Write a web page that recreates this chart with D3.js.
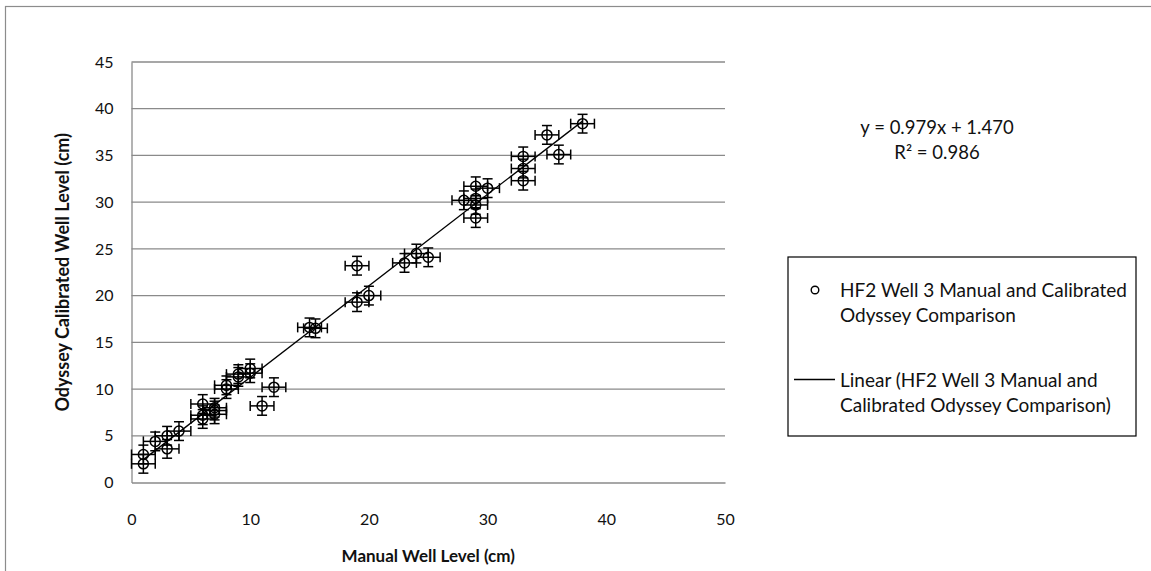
<!DOCTYPE html>
<html><head><meta charset="utf-8">
<script src="https://cdn.jsdelivr.net/npm/d3@7"></script>
<style>
body{margin:0;background:#fff;}
text{font-family:Lato,"Open Sans",sans-serif;}
</style></head>
<body><svg id="c" width="1151" height="571"></svg>
<script>
// Data: manual well level (x, cm) vs calibrated Odyssey level (y, cm)
const manual = [1, 1, 2, 3, 3, 4, 6, 6, 6, 7, 7, 7, 8, 8, 9, 9, 10, 10, 11, 12,
  15, 15.5, 19, 19, 20, 23, 24, 25, 28, 29, 29, 29, 29, 30, 33, 33, 33, 35, 36, 38];
const odyssey = [2.0, 3.0, 4.4, 3.6, 5.0, 5.5, 6.8, 7.2, 8.4, 7.3, 7.7, 8.0, 10.0, 10.4, 11.3, 11.6, 11.7, 12.2, 8.2, 10.2,
  16.6, 16.5, 23.2, 19.3, 20.0, 23.5, 24.5, 24.1, 30.2, 30.4, 29.7, 28.3, 31.7, 31.5, 32.3, 33.6, 34.9, 37.2, 35.1, 38.4];
const errX = 1, errY = 1;
const trendSlope = 0.979, trendIntercept = 1.470;
const xTicks = [0, 10, 20, 30, 40, 50];
const yTicks = [0, 5, 10, 15, 20, 25, 30, 35, 40, 45];
const eqText = ["y = 0.979x + 1.470", "R² = 0.986"];
const legendLabels = [["HF2 Well 3 Manual and Calibrated", "Odyssey Comparison"],
  ["Linear (HF2 Well 3 Manual and", "Calibrated Odyssey Comparison)"]];

const svg = d3.select("#c");
const x = d3.scaleLinear().domain([0, 50]).range([131.5, 725]);
const y = d3.scaleLinear().domain([0, 45]).range([482.5, 62]);

// outer chart border
svg.append("rect").attr("x", 5.5).attr("y", 6.5).attr("width", 1200).attr("height", 600)
  .attr("fill", "none").attr("stroke", "#8c8c8c").attr("stroke-width", 1.2);

// gridlines
svg.append("g").selectAll("line").data(yTicks.filter(d => d > 0)).join("line")
  .attr("x1", x(0)).attr("x2", x(50)).attr("y1", d => y(d)).attr("y2", d => y(d))
  .attr("stroke", "#8a8a8a").attr("stroke-width", 1.3);

// axes
const yAxis = d3.axisLeft(y).tickValues(yTicks).tickSize(0).tickPadding(18);
const xAxis = d3.axisBottom(x).tickValues(xTicks).tickSize(0).tickPadding(31);
const gy = svg.append("g").attr("transform", `translate(${x(0)},0)`).call(yAxis);
const gx = svg.append("g").attr("transform", `translate(0,${y(0)})`).call(xAxis);
[gx, gy].forEach(g => {
  g.select(".domain").attr("stroke", "#8a8a8a").attr("stroke-width", 1.3);
  g.selectAll("text").attr("font-size", 16).attr("fill", "#111").style("font-family", "Lato, sans-serif");
});

// trend line
const tx = d3.extent(manual);
svg.append("line")
  .attr("x1", x(tx[0])).attr("y1", y(trendSlope * tx[0] + trendIntercept))
  .attr("x2", x(tx[1])).attr("y2", y(trendSlope * tx[1] + trendIntercept))
  .attr("stroke", "#000").attr("stroke-width", 1.3);

// points with error bars
const pts = manual.map((m, i) => ({x: m, y: odyssey[i]}));
const g = svg.append("g").attr("stroke", "#000").attr("stroke-width", 1.5).attr("fill", "none");
const cap = 5;
pts.forEach(p => {
  const cx = x(p.x), cy = y(p.y);
  const x0 = x(p.x - errX), x1 = x(p.x + errX), y0 = y(p.y - errY), y1 = y(p.y + errY);
  g.append("line").attr("x1", x0).attr("x2", x1).attr("y1", cy).attr("y2", cy);
  g.append("line").attr("x1", x0).attr("x2", x0).attr("y1", cy - cap).attr("y2", cy + cap);
  g.append("line").attr("x1", x1).attr("x2", x1).attr("y1", cy - cap).attr("y2", cy + cap);
  g.append("line").attr("x1", cx).attr("x2", cx).attr("y1", y0).attr("y2", y1);
  g.append("line").attr("x1", cx - cap).attr("x2", cx + cap).attr("y1", y0).attr("y2", y0);
  g.append("line").attr("x1", cx - cap).attr("x2", cx + cap).attr("y1", y1).attr("y2", y1);
});
g.selectAll("circle").data(pts).join("circle")
  .attr("cx", d => x(d.x)).attr("cy", d => y(d.y)).attr("r", 5);

// axis titles
svg.append("text").attr("x", (x(0) + x(50)) / 2).attr("y", 562).attr("text-anchor", "middle")
  .attr("font-size", 17).attr("font-weight", "bold").attr("fill", "#111").text("Manual Well Level (cm)");
svg.append("text").attr("transform", `translate(69,${(y(0) + y(45)) / 2}) rotate(-90)`)
  .attr("text-anchor", "middle").attr("font-size", 18).attr("font-weight", "bold").attr("fill", "#111")
  .text("Odyssey Calibrated Well Level (cm)");

// equation
svg.selectAll(".eq").data(eqText).join("text").attr("class", "eq")
  .attr("x", 937).attr("y", (d, i) => 134 + i * 25).attr("text-anchor", "middle")
  .attr("font-size", 18.5).attr("fill", "#111").text(d => d);

// legend
svg.append("rect").attr("x", 788).attr("y", 257).attr("width", 348).attr("height", 179)
  .attr("fill", "#fff").attr("stroke", "#000").attr("stroke-width", 1.2);
svg.append("circle").attr("cx", 815).attr("cy", 290).attr("r", 3.8)
  .attr("fill", "none").attr("stroke", "#000").attr("stroke-width", 1.4);
svg.append("line").attr("x1", 794).attr("x2", 835).attr("y1", 379.5).attr("y2", 379.5)
  .attr("stroke", "#000").attr("stroke-width", 1.3);
legendLabels.forEach((lines, k) => {
  lines.forEach((t, j) => {
    svg.append("text").attr("x", 840).attr("y", (k === 0 ? 297 : 387) + j * 25)
      .attr("font-size", 19).attr("fill", "#111").text(t);
  });
});
</script></body></html>
